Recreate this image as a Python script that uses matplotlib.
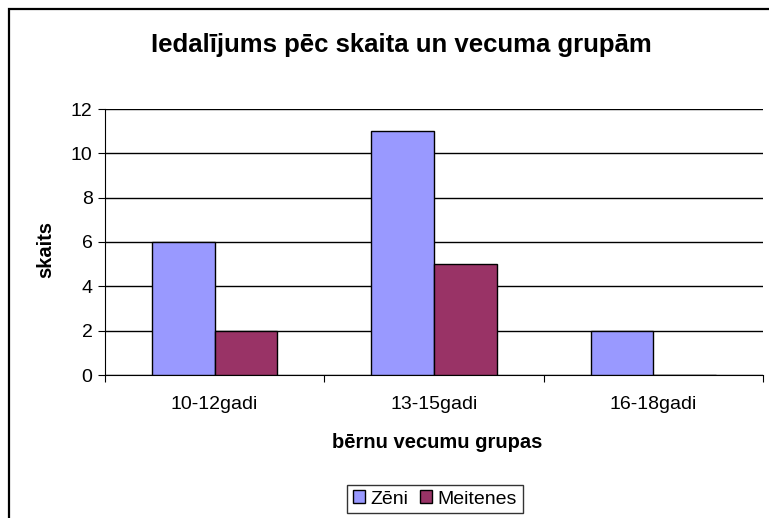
import matplotlib
matplotlib.use("Agg")
import matplotlib.pyplot as plt
from matplotlib.patches import Rectangle
import numpy as np

# data
groups = ["10-12gadi", "13-15gadi", "16-18gadi"]
zeni = [6, 11, 2]
meitenes = [2, 5, 0]

plt.rcParams['font.family'] = ['Liberation Sans', 'DejaVu Sans']

fig = plt.figure(figsize=(7.69, 5.18), dpi=100)

# outer chart border (runs off the right/bottom edge like the original)
fig.patches.append(Rectangle((9 / 769, -0.1), 1.2, (518 - 9) / 518 + 0.1,
                             transform=fig.transFigure, fill=False,
                             edgecolor="black", linewidth=1.6))

ax = fig.add_axes([105 / 769, (518 - 375) / 518, 658 / 769, 266 / 518])

x = np.arange(len(groups))
w = 1 / 3.5
ax.bar(x - w / 2, zeni, w, color="#9999FF", edgecolor="black", linewidth=1,
       label="Zēni", zorder=3)
ax.bar(x + w / 2, meitenes, w, color="#993366", edgecolor="black", linewidth=1,
       label="Meitenes", zorder=3)

ax.set_xlim(-0.5, 2.5)
ax.set_ylim(0, 12)
ax.set_yticks(range(0, 13, 2))
ax.yaxis.grid(True, color="black", linewidth=1)
ax.set_axisbelow(True)

ax.set_xticks([-0.5, 0.5, 1.5, 2.5])
ax.set_xticklabels([])
ax.set_xticks(x, minor=True)
ax.set_xticklabels(groups, minor=True, fontsize=14)
ax.tick_params(axis="x", which="minor", length=0, pad=15)
ax.tick_params(axis="x", which="major", length=5, direction="out")
ax.tick_params(axis="y", length=5, direction="out", labelsize=14, pad=4)

for s in ["top", "right"]:
    ax.spines[s].set_visible(False)

ax.set_ylabel("skaits", fontsize=14.5, fontweight="bold", va="center")
ax.yaxis.set_label_coords((46 - 105) / 658, 0.47)
ax.set_xlabel("bērnu vecumu grupas", fontsize=14.5, fontweight="bold", va="center")
ax.xaxis.set_label_coords((437 - 105) / 658, (375 - 442) / 266)

fig.text(401 / 769, 1 - 45 / 518, "Iedalījums pēc skaita un vecuma grupām",
         ha="center", va="center", fontsize=18.5, fontweight="bold")

leg = fig.legend(loc="center", bbox_to_anchor=(435 / 769, 1 - 499 / 518),
                 ncol=2, fontsize=14, frameon=True, fancybox=False,
                 edgecolor="black", handlelength=0.6, handleheight=0.6,
                 handletextpad=0.3, columnspacing=0.6, borderpad=0.3)
leg.get_frame().set_linewidth(1)

fig.savefig("out.png", dpi=100)
